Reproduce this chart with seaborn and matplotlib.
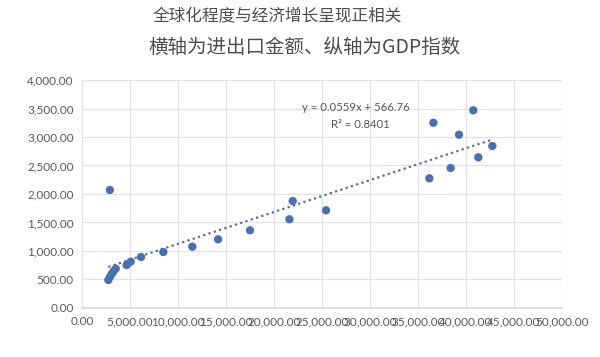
import numpy as np
import pandas as pd
import matplotlib
matplotlib.use('Agg')
import matplotlib.pyplot as plt
import seaborn as sns
from matplotlib.ticker import FuncFormatter, MultipleLocator

# 进出口金额 vs GDP指数
trade = [2900, 2740, 2920, 3090, 3260, 3510, 4650, 5070, 6150, 8470,
         11490, 14170, 17500, 21600, 21950, 25420,
         36180, 36600, 38400, 39270, 40760, 41280, 42740]
gdp = [2070, 490, 550, 596, 637, 690, 754, 812, 895, 982,
       1076, 1205, 1363, 1556, 1877, 1714,
       2275, 3250, 2456, 3040, 3468, 2643, 2842]

slope = 0.0559
intercept = 566.76
r2 = 0.8401

title1 = '全球化程度与经济增长呈现正相关'
title2 = '横轴为进出口金额、纵轴为GDP指数'

sns.set_theme(style='whitegrid')
plt.rcParams['font.family'] = ['Lato', 'Noto Sans CJK SC', 'DejaVu Sans']

df = pd.DataFrame({'trade': trade, 'gdp': gdp})

fig = plt.figure(figsize=(6, 3.57), dpi=100)
ax = fig.add_axes([0.1367, 0.1373, 0.8, 0.6386])

sns.scatterplot(data=df, x='trade', y='gdp', ax=ax, color='#4a70b0',
                s=36, edgecolor='none', zorder=3)

xs = np.array([df['trade'].min(), df['trade'].max()])
ax.plot(xs, slope * xs + intercept, linestyle=(0, (1, 1.5)), color='#5a6d8c',
        linewidth=1.6, zorder=2)

ax.text(28540, 3509, f'y = {slope}x + {intercept}', ha='center', va='center',
        fontsize=8.2, color='#595959')
ax.text(28960, 3228, f'R\u00b2 = {r2}', ha='center', va='center',
        fontsize=8.2, color='#595959')

ax.set_xlim(0, 50000)
ax.set_ylim(0, 4000)
ax.xaxis.set_major_locator(MultipleLocator(5000))
ax.yaxis.set_major_locator(MultipleLocator(500))
fmt = FuncFormatter(lambda v, p: f'{v:,.2f}')
ax.xaxis.set_major_formatter(fmt)
ax.yaxis.set_major_formatter(fmt)
ax.tick_params(labelsize=8.5, colors='#595959', length=0, pad=6)
ax.grid(color='#e3e3e3', linewidth=0.9)
for s in ['top', 'right', 'left']:
    ax.spines[s].set_visible(False)
ax.spines['bottom'].set_color('#d9d9d9')
ax.set_xlabel('')
ax.set_ylabel('')

fig.text(0.462, 0.952, title1, ha='center', va='center', fontsize=12,
         color='#4d4d4d', family=['Noto Sans CJK SC', 'DejaVu Sans'])
fig.text(0.508, 0.868, title2, ha='center', va='center', fontsize=14,
         color='#4d4d4d', family=['Noto Sans CJK SC', 'DejaVu Sans'])

fig.savefig('out.png', dpi=100)
